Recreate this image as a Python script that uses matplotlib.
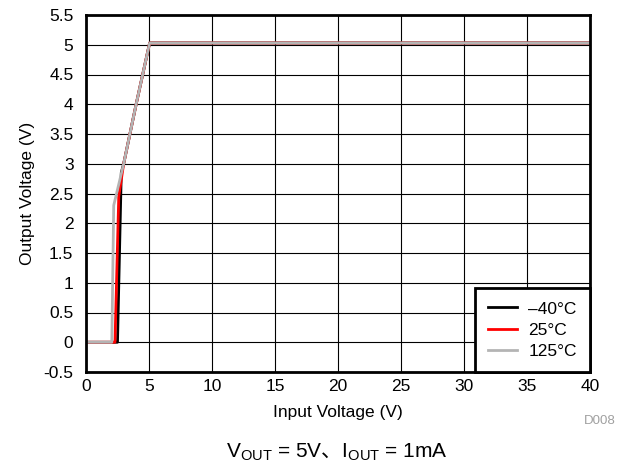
import matplotlib
matplotlib.use("Agg")
import matplotlib.pyplot as plt

# Daten
vin_m40 = [0, 2.5, 2.8, 2.99, 3.98, 5.05, 40]
vout_m40 = [0, 0, 2.85, 3.0, 4.0, 5.03, 5.03]
vin_25 = [0, 2.3, 2.6, 2.99, 3.98, 5.05, 40]
vout_25 = [0, 0, 2.45, 3.0, 4.0, 5.03, 5.03]
vin_125 = [0, 2.05, 2.2, 2.99, 3.98, 5.05, 40]
vout_125 = [0, 0, 2.3, 3.0, 4.0, 5.03, 5.03]

series_labels = ["\u201340\u00b0C", "25\u00b0C", "125\u00b0C"]
series_colors = ["#000000", "#ff0000", "#b4b4b4"]

x_ticks = [0, 5, 10, 15, 20, 25, 30, 35, 40]
y_ticks = [-0.5, 0, 0.5, 1, 1.5, 2, 2.5, 3, 3.5, 4, 4.5, 5, 5.5]
y_tick_labels = ["-0.5", "0", "0.5", "1", "1.5", "2", "2.5", "3", "3.5", "4", "4.5", "5", "5.5"]

plt.rcParams["font.family"] = ["Liberation Sans", "DejaVu Sans"]
plt.rcParams["mathtext.fontset"] = "custom"
plt.rcParams["mathtext.rm"] = "Liberation Sans"
plt.rcParams["mathtext.cal"] = "Noto Sans CJK JP"

FS = 12.5

fig = plt.figure(figsize=(6.28, 4.70), dpi=100)
ax = fig.add_axes([86 / 628, 1 - 372 / 470, (590 - 86) / 628, (372 - 15) / 470])

ax.plot(vin_m40, vout_m40, color=series_colors[0], lw=2, label=series_labels[0])
ax.plot(vin_25, vout_25, color=series_colors[1], lw=2, label=series_labels[1])
ax.plot(vin_125, vout_125, color=series_colors[2], lw=2, label=series_labels[2])

ax.set_xlim(0, 40)
ax.set_ylim(-0.5, 5.5)
ax.set_xticks(x_ticks)
ax.set_yticks(y_ticks)
ax.set_yticklabels(y_tick_labels)
ax.tick_params(length=0, labelsize=FS)
ax.tick_params(axis="x", pad=5)
ax.tick_params(axis="y", pad=9)
ax.grid(True, color="#000000", lw=0.8)
ax.set_axisbelow(True)
for s in ax.spines.values():
    s.set_linewidth(2)

ax.set_xlabel("Input Voltage (V)", fontsize=FS, va="center")
ax.xaxis.set_label_coords(0.5, -(413 - 372) / 357)
ax.set_ylabel("Output Voltage (V)", fontsize=FS, va="center")
ax.yaxis.set_label_coords(-(86 - 28) / 504, 0.5)

leg = ax.legend(loc="lower right", fontsize=FS, fancybox=False, framealpha=1,
                edgecolor="#000000", borderaxespad=0, handlelength=1.7,
                handletextpad=0.65, labelspacing=0.35, borderpad=0.75)
leg.get_frame().set_linewidth(2)

fig.text(600 / 628, 1 - 421 / 470, "D008", fontsize=9.5, color="#a0a0a0",
         ha="center", va="center")
fig.text(337 / 628, 1 - 452 / 470,
         r"$\mathrm{V}_{\mathrm{OUT}}$ = 5V$\mathcal{、}$$\mathrm{I}_{\mathrm{OUT}}$ = 1mA",
         fontsize=15, ha="center", va="center")

fig.savefig("out.png", dpi=100)
